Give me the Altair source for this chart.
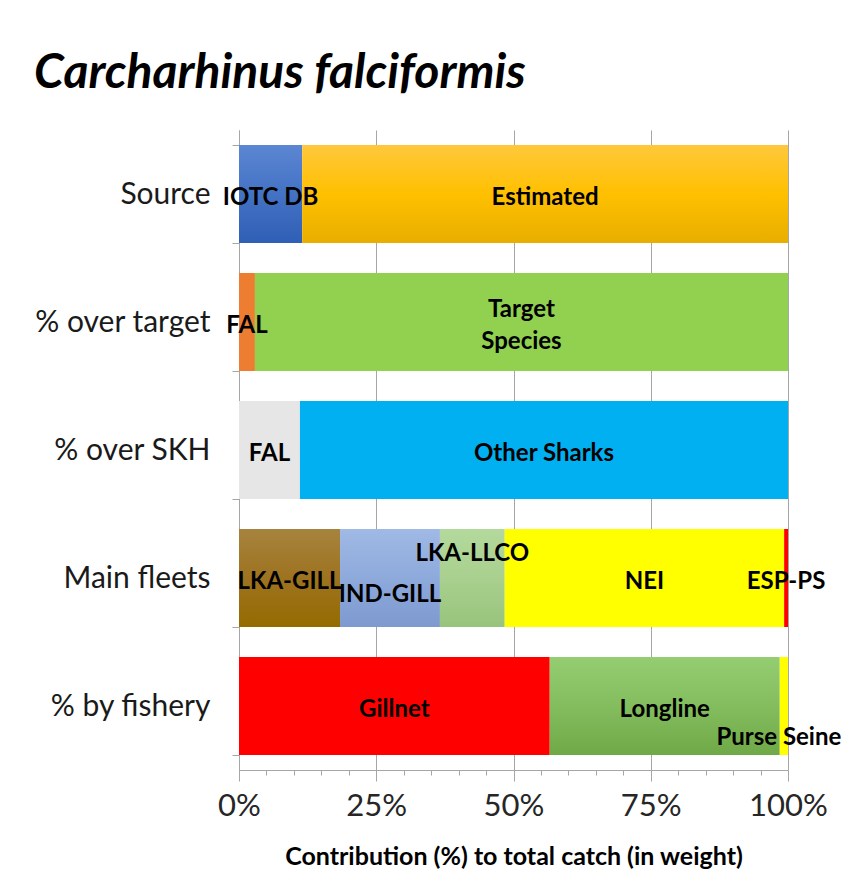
import altair as alt
import pandas as pd

# ---- data ----
rows = ["Source", "% over target", "% over SKH", "Main fleets", "% by fishery"]

source_names = ["IOTC DB", "Estimated"]
source_vals = [11.5, 88.5]
target_names = ["FAL", "Target\nSpecies"]
target_vals = [2.9, 97.1]
skh_names = ["FAL", "Other Sharks"]
skh_vals = [11.1, 88.9]
fleet_names = ["LKA-GILL", "IND-GILL", "LKA-LLCO", "NEI", "ESP-PS"]
fleet_vals = [18.4, 18.2, 11.8, 50.9, 0.7]
fishery_names = ["Gillnet", "Longline", "Purse Seine"]
fishery_vals = [56.6, 41.9, 1.5]

x_ticks = [0, 5, 10, 15, 20, 25, 30, 35, 40, 45, 50, 55, 60, 65, 70, 75, 80, 85, 90, 95, 100]

# ---- styles ----
def grad(top, mid, bottom):
    return {"gradient": "linear", "x1": 0, "y1": 0, "x2": 0, "y2": 1,
            "stops": [{"offset": 0, "color": top}, {"offset": 0.5, "color": mid},
                      {"offset": 1, "color": bottom}]}

fills = {
    ("Source", "IOTC DB"): grad("#5b86d2", "#4472c4", "#2f5fb6"),
    ("Source", "Estimated"): grad("#ffc83c", "#ffc000", "#e8ae00"),
    ("% over target", "FAL"): "#ed7d31",
    ("% over target", "Target\nSpecies"): "#92d050",
    ("% over SKH", "FAL"): "#e6e6e6",
    ("% over SKH", "Other Sharks"): "#00b0f0",
    ("Main fleets", "LKA-GILL"): grad("#a6833e", "#9e7320", "#946b00"),
    ("Main fleets", "IND-GILL"): grad("#a0b9e5", "#8eaadb", "#7d99cf"),
    ("Main fleets", "LKA-LLCO"): grad("#b3d99d", "#a9d08e", "#97c47c"),
    ("Main fleets", "NEI"): "#ffff00",
    ("Main fleets", "ESP-PS"): "#ff0000",
    ("% by fishery", "Gillnet"): "#ff0000",
    ("% by fishery", "Longline"): grad("#95ce72", "#84bd5e", "#6fa947"),
    ("% by fishery", "Purse Seine"): "#ffff00",
}
# label offsets (styling): (dx, dy)
label_off = {"IND-GILL": (0, 17), "LKA-LLCO": (0, -24), "Purse Seine": (-5, 32),
             "Target\nSpecies": (0, -12)}

# ---- table ----
recs = []
for row, names, vals in zip(rows,
                            [source_names, target_names, skh_names, fleet_names, fishery_names],
                            [source_vals, target_vals, skh_vals, fleet_vals, fishery_vals]):
    cum = 0.0
    for n, v in zip(names, vals):
        dx, dy = label_off.get(n, (0, 4))
        recs.append({"row": row, "seg": n, "start": cum, "end": cum + v,
                     "mid": cum + v / 2, "off": f"{dx},{dy}"})
        cum += v
df = pd.DataFrame(recs)
df["idx"] = range(len(df))

is_major = "datum.value % 25 === 0"
x_axis = alt.Axis(
    values=x_ticks,
    labelExpr=f"{is_major} ? datum.value + '%' : ''",
    labelFlush=False, labelOverlap=False,
    tickSize={"condition": {"test": is_major, "value": 11}, "value": 5},
    grid=True, gridColor="#a6a6a6",
    gridOpacity={"condition": {"test": is_major, "value": 1}, "value": 0},
    domainColor="#a6a6a6", tickColor="#a6a6a6",
    labelFont="Lato", labelFontSize=31, labelColor="#262626", labelPadding=10,
    title="Contribution (%) to total catch (in weight)",
    titleFont="Lato", titleFontSize=25, titleFontWeight="bold", titleColor="#000000",
    titlePadding=23,
)
y_axis = alt.Axis(
    title=None, tickBand="extent", tickSize=7, tickColor="#a6a6a6", domainColor="#a6a6a6",
    labelFont="Lato", labelFontSize=30, labelColor="#1a1a1a", labelPadding=22,
    grid=False,
)
x_scale = alt.Scale(domain=[0, 100], nice=False, zero=True)
y_scale = alt.Scale(domain=rows, paddingInner=0.234, paddingOuter=0.117)

base = alt.Chart(df)
layers = []
for i, r in df.iterrows():
    layers.append(
        base.transform_filter(alt.datum.idx == int(r["idx"]))
        .mark_bar(color=fills[(r["row"], r["seg"])], cornerRadius=0)
        .encode(
            x=alt.X("start:Q", scale=x_scale, axis=x_axis),
            x2="end:Q",
            y=alt.Y("row:N", scale=y_scale, axis=y_axis, sort=rows),
        )
    )

for off in df["off"].unique():
    dx, dy = (int(v) for v in off.split(","))
    layers.append(
        base.transform_filter(alt.datum.off == off)
        .mark_text(font="Lato", fontSize=24, fontWeight="bold", color="#000000",
                   dx=dx, dy=dy, lineBreak="\n", lineHeight=32)
        .encode(
            x=alt.X("mid:Q", scale=x_scale, axis=x_axis),
            y=alt.Y("row:N", scale=y_scale, axis=y_axis, sort=rows),
            text="seg:N",
        )
    )

chart = alt.layer(*layers).properties(
    width=549, height=640,
    autosize=alt.AutoSizeParams(type="none"),
    padding={"left": 231, "top": 122, "right": 53, "bottom": 110},
    title=alt.TitleParams("Carcharhinus falciformis", anchor="start", frame="bounds",
                          font="Lato", fontSize=48, fontWeight="bold", fontStyle="italic",
                          color="#000000", offset=17),
).configure_view(stroke="transparent")

chart.save("out.html", embed_options={"renderer": "svg", "actions": False})
